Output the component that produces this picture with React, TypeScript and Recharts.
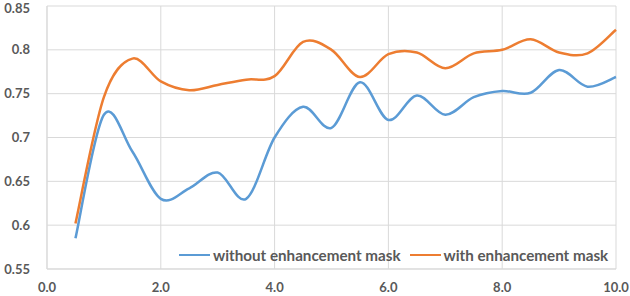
import React from 'react';
import { LineChart, Line, XAxis, YAxis, CartesianGrid } from 'recharts';

const xValues = [0.5, 1.0, 1.5, 2.0, 2.5, 3.0, 3.5, 4.0, 4.5, 5.0, 5.5, 6.0, 6.5, 7.0, 7.5, 8.0, 8.5, 9.0, 9.5, 10.0];
const withoutMask = [0.585, 0.726, 0.684, 0.63, 0.642, 0.66, 0.63, 0.7, 0.735, 0.711, 0.763, 0.72, 0.748, 0.726, 0.746, 0.753, 0.751, 0.777, 0.758, 0.769];
const withMask = [0.602, 0.746, 0.79, 0.764, 0.754, 0.76, 0.766, 0.77, 0.809, 0.8, 0.769, 0.795, 0.797, 0.779, 0.796, 0.8, 0.812, 0.797, 0.796, 0.823];
const xTicks = [0, 2, 4, 6, 8, 10];
const yTicks = [0.55, 0.6, 0.65, 0.7, 0.75, 0.8, 0.85];

const data = xValues.map((x, i) => ({ x, without: withoutMask[i], with: withMask[i] }));

// Excel-style smoothing (Catmull-Rom through every point)
const smoothCurve: any = (context: any) => {
  let pts: number[][] = [];
  return {
    areaStart() {},
    areaEnd() {},
    lineStart() { pts = []; },
    point(x: number, y: number) { pts.push([+x, +y]); },
    lineEnd() {
      if (!pts.length) return;
      context.moveTo(pts[0][0], pts[0][1]);
      for (let i = 0; i < pts.length - 1; i++) {
        const p0 = pts[i - 1] || pts[i];
        const p1 = pts[i];
        const p2 = pts[i + 1];
        const p3 = pts[i + 2] || pts[i + 1];
        context.bezierCurveTo(
          p1[0] + (p2[0] - p0[0]) / 6, p1[1] + (p2[1] - p0[1]) / 6,
          p2[0] - (p3[0] - p1[0]) / 6, p2[1] - (p3[1] - p1[1]) / 6,
          p2[0], p2[1]
        );
      }
    },
  };
};

const font = { fontFamily: 'Lato, "Open Sans", sans-serif', fontWeight: 700, fontSize: 13, fill: '#595959' };

export default function App() {
  return (
    <div style={{ position: 'absolute', left: 0, top: 0, width: 630, height: 296, background: '#fff' }}>
      <LineChart width={630} height={296} data={data} margin={{ top: 6, right: 14, left: 0, bottom: 0 }}>
        <CartesianGrid stroke="#d9d9d9" strokeWidth={1} />
        <XAxis
          dataKey="x"
          type="number"
          domain={[0, 10]}
          ticks={xTicks}
          tickFormatter={(v: number) => v.toFixed(1)}
          tick={font}
          tickLine={false}
          tickSize={6}
          tickMargin={8}
          axisLine={{ stroke: '#d9d9d9' }}
          height={27}
        />
        <YAxis
          type="number"
          domain={[0.55, 0.85]}
          ticks={yTicks}
          tickFormatter={(v: number) => String(+v.toFixed(2))}
          tick={font}
          tickLine={false}
          tickSize={6}
          tickMargin={11}
          axisLine={{ stroke: '#d9d9d9' }}
          width={47}
        />
        <Line dataKey="without" type={smoothCurve} stroke="#5B9BD5" strokeWidth={2.5} dot={false} isAnimationActive={false} />
        <Line dataKey="with" type={smoothCurve} stroke="#ED7D31" strokeWidth={2.5} dot={false} isAnimationActive={false} />
      </LineChart>
      <div style={{ position: 'absolute', left: 179, top: 245, display: 'flex', alignItems: 'center', fontFamily: 'Lato, "Open Sans", sans-serif', fontWeight: 700, fontSize: 15.2, color: '#595959', whiteSpace: 'nowrap', lineHeight: '20px' }}>
        <span style={{ display: 'inline-block', width: 31, height: 0, borderTop: '2.5px solid #5B9BD5', marginRight: 3 }} />
        <span>without enhancement mask</span>
        <span style={{ display: 'inline-block', width: 31, height: 0, borderTop: '2.5px solid #ED7D31', marginLeft: 9, marginRight: 3 }} />
        <span>with enhancement mask</span>
      </div>
    </div>
  );
}
